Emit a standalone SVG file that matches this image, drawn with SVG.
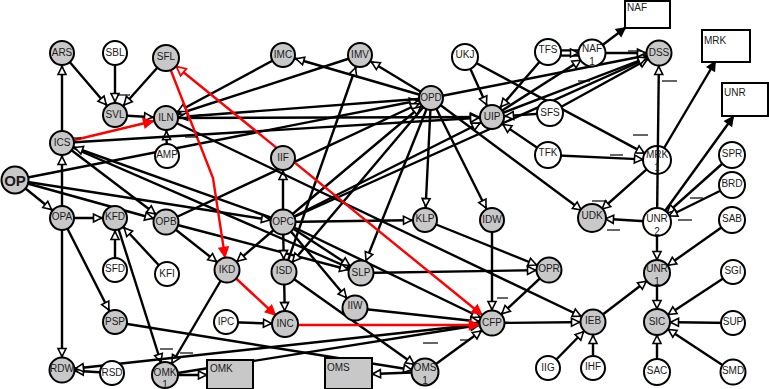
<svg xmlns="http://www.w3.org/2000/svg" width="769" height="389" viewBox="0 0 769 389">
<style>
.e line,.e polyline,.e path{stroke:#000;stroke-width:2.4;fill:none;marker-end:url(#a)}
.e .b{marker-end:url(#a0)}
.e .o{marker-end:url(#ao)}
.e .n{marker-end:none}
.e .r{stroke:#f00;marker-end:url(#ar)}
.e .rr{stroke:#f00;marker-end:url(#ar);marker-start:url(#ars)}
.node circle{stroke:#000;stroke-width:2}
.g circle,.g rect{fill:#c8c8c8}
.w circle,.w rect{fill:#fff}
.node rect{stroke:#000;stroke-width:2}
text{font-family:"Liberation Sans",Arial,sans-serif;font-size:10px;fill:#1a1a1a;text-anchor:middle}
.bx text{text-anchor:start}
.dash line{stroke:#000;stroke-width:1.2}
</style>
<defs>
<marker id="a" markerUnits="userSpaceOnUse" markerWidth="30" markerHeight="30" refX="13.5" refY="0" orient="auto" overflow="visible"><path d="M0,0 L-8,-4 L-8,4 Z" fill="#fff" stroke="#000" stroke-width="1.6"/></marker>
<marker id="ao" markerUnits="userSpaceOnUse" markerWidth="30" markerHeight="30" refX="0.5" refY="0" orient="auto" overflow="visible"><path d="M0,0 L-8,-4 L-8,4 Z" fill="#fff" stroke="#000" stroke-width="1.6"/></marker>
<marker id="a0" markerUnits="userSpaceOnUse" markerWidth="30" markerHeight="30" refX="0" refY="0" orient="auto" overflow="visible"><path d="M0,0 L-8,-4 L-8,4 Z" fill="#000" stroke="#000" stroke-width="1.6"/></marker>
<marker id="ar" markerUnits="userSpaceOnUse" markerWidth="30" markerHeight="30" refX="13.5" refY="0" orient="auto" overflow="visible"><path d="M0,0 L-9,-4.5 L-9,4.5 Z" fill="#f00" stroke="#f00" stroke-width="1.6"/></marker>
<marker id="ars" markerUnits="userSpaceOnUse" markerWidth="30" markerHeight="30" refX="13.5" refY="0" orient="auto-start-reverse" overflow="visible"><path d="M0,0 L-9,-4.5 L-9,4.5 Z" fill="#fff" stroke="#f00" stroke-width="1.8"/></marker>
</defs>
<rect width="769" height="389" fill="#fff"/>
<g id="connectors" class="e">
<line x1="62" y1="143" x2="62" y2="53"/>
<line x1="62" y1="53" x2="115" y2="115"/>
<line x1="115" y1="53" x2="115" y2="115"/>
<line x1="166" y1="58" x2="115" y2="115"/>
<line x1="115" y1="115" x2="166" y2="118"/>
<line x1="167" y1="155" x2="166" y2="118"/>
<line x1="62" y1="218" x2="62" y2="143"/>
<line x1="15" y1="180" x2="62" y2="218"/>
<line x1="15" y1="180" x2="431" y2="98"/>
<line x1="15" y1="180" x2="166" y2="222"/>
<line x1="15" y1="180" x2="283" y2="222"/>
<line x1="62" y1="218" x2="115" y2="218"/>
<line x1="62" y1="218" x2="62" y2="370"/>
<line x1="62" y1="218" x2="115" y2="322"/>
<line x1="115" y1="270" x2="115" y2="218"/>
<line x1="167" y1="274" x2="115" y2="218"/>
<line x1="115" y1="218" x2="165" y2="375"/>
<line x1="227" y1="270" x2="165" y2="375"/>
<line x1="62" y1="143" x2="166" y2="222"/>
<line x1="62" y1="143" x2="361" y2="273"/>
<line x1="166" y1="222" x2="227" y2="270"/>
<line x1="166" y1="222" x2="361" y2="273"/>
<line x1="166" y1="222" x2="431" y2="98"/>
<line x1="115" y1="322" x2="425" y2="372"/>
<line x1="112" y1="373" x2="62" y2="370"/>
<line x1="492" y1="323" x2="62" y2="370"/>
<line class="o" x1="165" y1="375" x2="207" y2="375"/>
<line x1="165" y1="375" x2="492" y2="323"/>
<line class="o" x1="425" y1="372" x2="372" y2="374"/>
<line x1="425" y1="372" x2="492" y2="323"/>
<line x1="284" y1="272" x2="425" y2="372"/>
<line x1="283" y1="222" x2="283" y2="158"/>
<line x1="283" y1="222" x2="284" y2="272"/>
<line x1="283" y1="222" x2="227" y2="270"/>
<line x1="283" y1="222" x2="361" y2="273"/>
<line x1="283" y1="222" x2="355" y2="308"/>
<line x1="283" y1="222" x2="492" y2="323"/>
<line x1="283" y1="222" x2="425" y2="220"/>
<line x1="283" y1="222" x2="492" y2="117"/>
<line x1="283" y1="222" x2="659" y2="53"/>
<line x1="283" y1="222" x2="431" y2="98"/>
<line x1="283" y1="222" x2="62" y2="143"/>
<line x1="284" y1="272" x2="360" y2="55"/>
<line x1="360" y1="55" x2="166" y2="118"/>
<line x1="283" y1="55" x2="166" y2="118"/>
<line x1="431" y1="98" x2="283" y2="55"/>
<line x1="431" y1="98" x2="360" y2="55"/>
<line x1="431" y1="98" x2="166" y2="118"/>
<line x1="431" y1="98" x2="659" y2="53"/>
<line x1="431" y1="98" x2="425" y2="220"/>
<line x1="431" y1="98" x2="492" y2="220"/>
<line x1="431" y1="98" x2="284" y2="272"/>
<line x1="431" y1="98" x2="361" y2="273"/>
<line x1="431" y1="98" x2="592" y2="218"/>
<line x1="166" y1="118" x2="492" y2="117"/>
<line x1="62" y1="143" x2="492" y2="117"/>
<line x1="166" y1="118" x2="593" y2="322"/>
<line x1="465" y1="57" x2="492" y2="117"/>
<line class="o" x1="465" y1="57" x2="644.7" y2="153.4"/>
<line x1="548" y1="52" x2="492" y2="117"/>
<line x1="548" y1="50.5" x2="592" y2="50.5" class="n"/>
<line x1="548" y1="55.5" x2="592" y2="55.5" class="n"/>
<line x1="548" y1="53" x2="592" y2="53" style="stroke:#fff;stroke-width:2.5"/>
<line class="b" x1="592" y1="53" x2="625" y2="28"/>
<line x1="592" y1="53" x2="659" y2="53"/>
<line x1="550" y1="113" x2="492" y2="117"/>
<line x1="550" y1="113" x2="659" y2="53"/>
<line x1="548" y1="155" x2="492" y2="117"/>
<line class="o" x1="548" y1="155" x2="643" y2="159.4"/>
<line x1="492" y1="117" x2="659" y2="53"/>
<line x1="492" y1="117" x2="592" y2="53"/>
<line x1="657" y1="222" x2="659" y2="53"/>
<line class="b" x1="664.1" y1="148" x2="715" y2="62"/>
<line class="b" x1="657" y1="222" x2="733" y2="117"/>
<line x1="646.6" y1="169.3" x2="592" y2="218"/>
<line x1="657" y1="222" x2="592" y2="218"/>
<line x1="732" y1="155" x2="657" y2="222"/>
<line x1="732" y1="185" x2="657" y2="222"/>
<line x1="732" y1="220" x2="657" y2="273"/>
<line x1="657" y1="222" x2="657" y2="273"/>
<line x1="657" y1="273" x2="657" y2="322"/>
<line x1="593" y1="322" x2="657" y2="273"/>
<line x1="733" y1="272" x2="657" y2="322"/>
<line x1="733" y1="323" x2="657" y2="322"/>
<line x1="733" y1="372" x2="657" y2="322"/>
<line x1="657" y1="372" x2="657" y2="322"/>
<line x1="548" y1="368" x2="593" y2="322"/>
<line x1="593" y1="368" x2="593" y2="322"/>
<line x1="492" y1="323" x2="593" y2="322"/>
<line x1="549" y1="270" x2="492" y2="323"/>
<line x1="492" y1="220" x2="492" y2="323"/>
<line x1="425" y1="220" x2="549" y2="270"/>
<line x1="361" y1="273" x2="549" y2="270"/>
<line x1="355" y1="308" x2="492" y2="323"/>
<line x1="226" y1="322" x2="285" y2="324"/>
<line x1="284" y1="272" x2="285" y2="324"/>
<line class="r" x1="62" y1="143" x2="166" y2="118"/>
<line class="r" x1="227" y1="270" x2="285" y2="324"/>
<line class="r" x1="285" y1="325" x2="492" y2="325"/>
<polyline class="r" points="166,58 213,178 227,270"/>
<line class="rr" x1="166" y1="58" x2="492" y2="323"/>
</g>
<g id="labels" class="dash">
<line x1="117" y1="95" x2="130" y2="95"/>
<line x1="67" y1="138" x2="81" y2="138"/>
<line x1="198" y1="115" x2="212" y2="115"/>
<line x1="185" y1="137" x2="198" y2="137"/>
<line x1="628" y1="51" x2="642" y2="51"/>
<line x1="662" y1="81" x2="677" y2="81"/>
<line x1="578" y1="81" x2="590" y2="81"/>
<line x1="633" y1="135" x2="648" y2="135"/>
<line x1="610" y1="155" x2="623" y2="155"/>
<line x1="690" y1="198" x2="703" y2="198"/>
<line x1="592" y1="201" x2="607" y2="201"/>
<line x1="678" y1="220" x2="692" y2="220"/>
<line x1="607" y1="230" x2="620" y2="230"/>
<line x1="160" y1="349" x2="173" y2="349"/>
<line x1="180" y1="353" x2="193" y2="353"/>
<line x1="497" y1="298" x2="508" y2="298"/>
<line x1="423" y1="343" x2="438" y2="343"/>
<line x1="460" y1="340" x2="470" y2="340"/>
</g>
<g id="ARS" class="node g"><circle cx="62" cy="53" r="12"/><text x="62" y="56">ARS</text></g>
<g id="SBL" class="node w"><circle cx="115" cy="53" r="12"/><text x="115" y="56">SBL</text></g>
<g id="SFL" class="node g"><circle cx="166" cy="58" r="13"/><text x="166" y="60">SFL</text></g>
<g id="SVL" class="node g"><circle cx="115" cy="115" r="12"/><text x="115" y="118">SVL</text></g>
<g id="ILN" class="node g"><circle cx="166" cy="118" r="12"/><text x="166" y="121">ILN</text></g>
<g id="ICS" class="node g"><circle cx="62" cy="143" r="12"/><text x="62" y="146">ICS</text></g>
<g id="AMP" class="node w"><circle cx="167" cy="156" r="12"/><text x="167" y="158">AMP</text></g>
<g id="IMC" class="node g"><circle cx="283" cy="55" r="12"/><text x="283" y="58">IMC</text></g>
<g id="IMV" class="node g"><circle cx="360" cy="55" r="12"/><text x="360" y="58">IMV</text></g>
<g id="OPD" class="node g"><circle cx="431" cy="98" r="12"/><text x="431" y="101">OPD</text></g>
<g id="UKJ" class="node w"><circle cx="465" cy="57" r="13"/><text x="465" y="58">UKJ</text></g>
<g id="TFS" class="node w"><circle cx="548" cy="52" r="13"/><text x="548" y="53">TFS</text></g>
<g id="NAF1" class="node w"><circle cx="592" cy="53" r="13.5"/><text x="592" y="52">NAF</text><text x="592" y="65">1</text></g>
<g id="NAF" class="node w bx"><rect x="625" y="1" width="45" height="27"/><text x="627" y="11">NAF</text></g>
<g id="DSS" class="node g"><circle cx="659" cy="53" r="12.5"/><text x="659" y="56">DSS</text></g>
<g id="MRK" class="node w bx"><rect x="702" y="30" width="48" height="32"/><text x="704" y="44">MRK</text></g>
<g id="UNR" class="node w bx"><rect x="722" y="83" width="46" height="33"/><text x="724" y="96">UNR</text></g>
<g id="UIP" class="node g"><circle cx="492" cy="117" r="12"/><text x="492" y="120">UIP</text></g>
<g id="SFS" class="node w"><circle cx="550" cy="113" r="13"/><text x="550" y="116">SFS</text></g>
<g id="TFK" class="node w"><circle cx="548" cy="155" r="13"/><text x="548" y="156">TFK</text></g>
<g id="MRK1" class="node w"><circle cx="657" cy="160" r="14" style="fill:none"/><text x="657" y="158">MRK</text><text x="657" y="171">1</text></g>
<g id="SPR" class="node w"><circle cx="732" cy="155" r="13"/><text x="732" y="157">SPR</text></g>
<g id="BRD" class="node w"><circle cx="732" cy="185" r="13"/><text x="732" y="187">BRD</text></g>
<g id="SAB" class="node w"><circle cx="732" cy="220" r="13"/><text x="732" y="222">SAB</text></g>
<g id="UDK" class="node g"><circle cx="592" cy="218" r="14"/><text x="592" y="219">UDK</text></g>
<g id="UNR2" class="node w"><circle cx="657" cy="222" r="14"/><text x="657" y="222">UNR</text><text x="657" y="235">2</text></g>
<g id="OP" class="node g"><circle cx="15" cy="180" r="13.5"/><text x="15" y="185.5" style="font-size:15px;font-weight:bold">OP</text></g>
<g id="OPA" class="node g"><circle cx="62" cy="218" r="12"/><text x="62" y="220">OPA</text></g>
<g id="KFD" class="node g"><circle cx="115" cy="218" r="12"/><text x="115" y="220">KFD</text></g>
<g id="OPB" class="node g"><circle cx="166" cy="222" r="12.5"/><text x="166" y="225">OPB</text></g>
<g id="IIF" class="node g"><circle cx="283" cy="158" r="12"/><text x="283" y="161">IIF</text></g>
<g id="OPC" class="node g"><circle cx="283" cy="222" r="12.5"/><text x="283" y="225">OPC</text></g>
<g id="KLP" class="node g"><circle cx="425" cy="220" r="12"/><text x="425" y="222">KLP</text></g>
<g id="IDW" class="node g"><circle cx="492" cy="220" r="12"/><text x="492" y="223">IDW</text></g>
<g id="SFD" class="node w"><circle cx="115" cy="270" r="12"/><text x="115" y="272">SFD</text></g>
<g id="KFI" class="node w"><circle cx="167" cy="274" r="12"/><text x="167" y="277">KFI</text></g>
<g id="IKD" class="node g"><circle cx="227" cy="270" r="12.5"/><text x="227" y="273">IKD</text></g>
<g id="ISD" class="node g"><circle cx="284" cy="272" r="12.5"/><text x="284" y="274">ISD</text></g>
<g id="SLP" class="node g"><circle cx="361" cy="273" r="12.5"/><text x="361" y="276">SLP</text></g>
<g id="IIW" class="node g"><circle cx="355" cy="308" r="12.5"/><text x="355" y="309">IIW</text></g>
<g id="OPR" class="node g"><circle cx="549" cy="270" r="12.5"/><text x="549" y="272">OPR</text></g>
<g id="UNR1" class="node g"><circle cx="657" cy="273" r="13"/><text x="657" y="272">UNR</text><text x="657" y="285">1</text></g>
<g id="SGI" class="node w"><circle cx="733" cy="272" r="12"/><text x="733" y="274">SGI</text></g>
<g id="PSP" class="node g"><circle cx="115" cy="322" r="12"/><text x="115" y="325">PSP</text></g>
<g id="IPC" class="node w"><circle cx="226" cy="322" r="12"/><text x="226" y="325">IPC</text></g>
<g id="INC" class="node g"><circle cx="285" cy="324" r="13"/><text x="285" y="327">INC</text></g>
<g id="CFP" class="node g"><circle cx="492" cy="323" r="12.5"/><text x="492" y="326">CFP</text></g>
<g id="IEB" class="node g"><circle cx="593" cy="322" r="12.5"/><text x="593" y="324">IEB</text></g>
<g id="SIC" class="node g"><circle cx="657" cy="322" r="13"/><text x="657" y="325">SIC</text></g>
<g id="SUP" class="node w"><circle cx="733" cy="323" r="12"/><text x="733" y="325">SUP</text></g>
<g id="RDW" class="node g"><circle cx="62" cy="370" r="12.5"/><text x="62" y="372">RDW</text></g>
<g id="RSD" class="node w"><circle cx="112" cy="373" r="12"/><text x="112" y="376">RSD</text></g>
<g id="OMK1" class="node g"><circle cx="165" cy="375" r="13"/><text x="165" y="376">OMK</text><text x="165" y="388">1</text></g>
<g id="OMK" class="node g bx"><rect x="207" y="360" width="46" height="29"/><text x="210" y="372">OMK</text></g>
<g id="OMS" class="node g bx"><rect x="325" y="358" width="47" height="31"/><text x="327" y="371">OMS</text></g>
<g id="OMS1" class="node g"><circle cx="425" cy="372" r="13.5"/><text x="425" y="371">OMS</text><text x="425" y="384">1</text></g>
<g id="IIG" class="node w"><circle cx="548" cy="368" r="12"/><text x="548" y="371">IIG</text></g>
<g id="IHF" class="node w"><circle cx="593" cy="368" r="12"/><text x="593" y="370">IHF</text></g>
<g id="SAC" class="node w"><circle cx="657" cy="372" r="13"/><text x="657" y="374">SAC</text></g>
<g id="SMD" class="node w"><circle cx="733" cy="372" r="12.5"/><text x="733" y="374">SMD</text></g>
</svg>
